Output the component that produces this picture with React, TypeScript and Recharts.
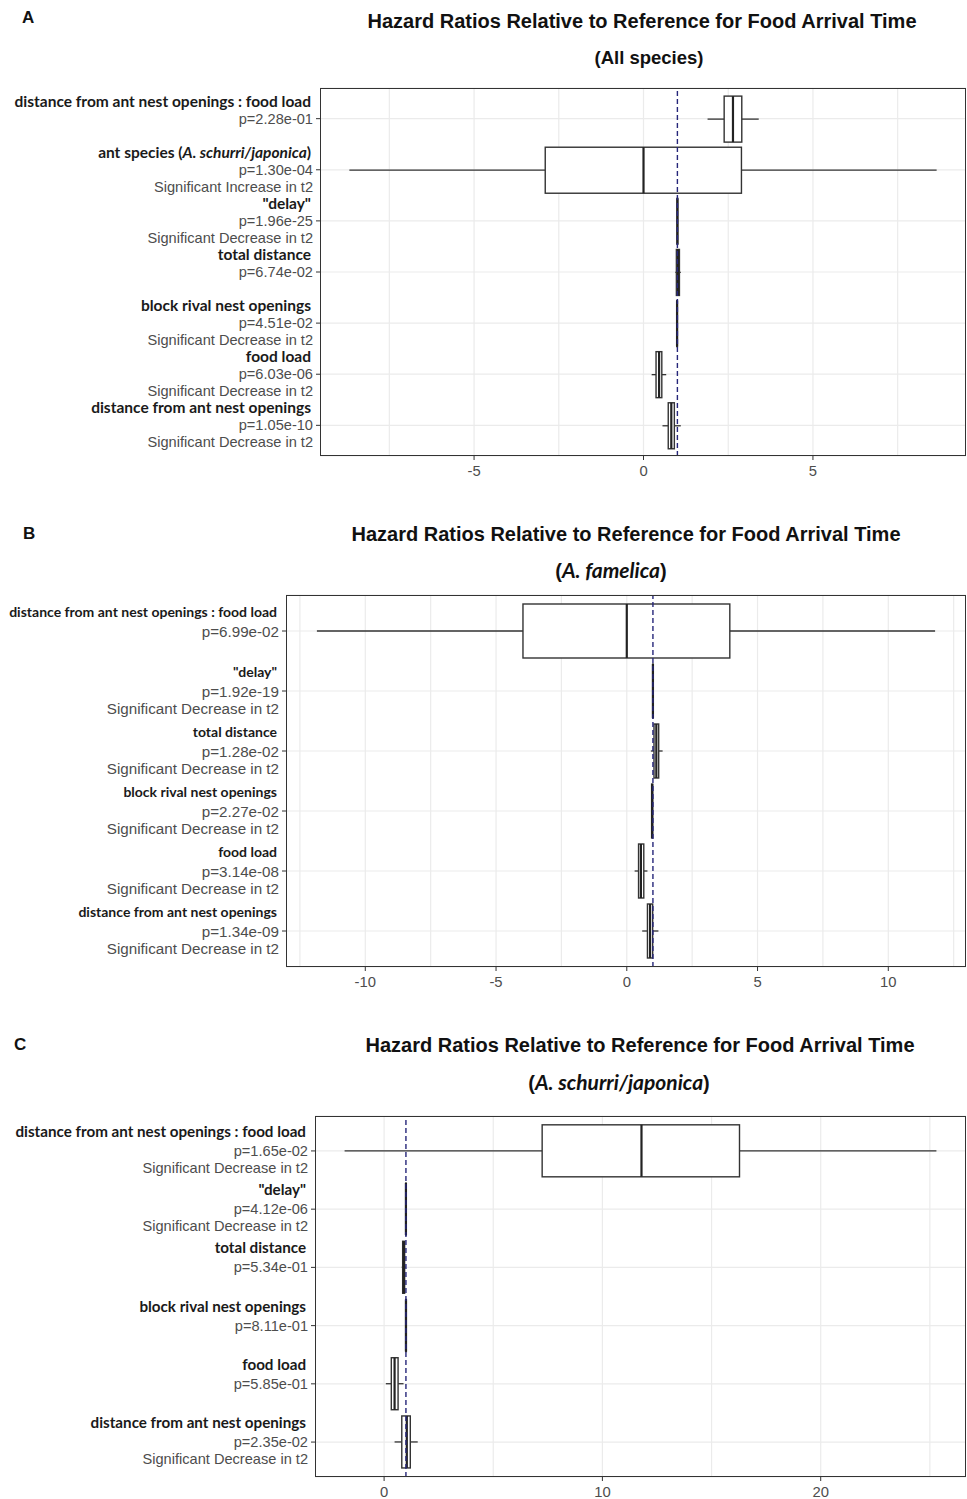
import React from "react";
import {
  ComposedChart,
  Bar,
  XAxis,
  YAxis,
  CartesianGrid,
  ReferenceLine,
} from "recharts";

const ARIAL = "'Liberation Sans', Arial, sans-serif";
const CAL = "Lato, 'Open Sans', sans-serif";

// ---- panel A: all species ----
const labelsA = [
  "distance from ant nest openings : food load",
  "ant species (A. schurri/japonica)",
  '"delay"',
  "total distance",
  "block rival nest openings",
  "food load",
  "distance from ant nest openings",
];
const pA = ["p=2.28e-01", "p=1.30e-04", "p=1.96e-25", "p=6.74e-02", "p=4.51e-02", "p=6.03e-06", "p=1.05e-10"];
const sigA = [
  "",
  "Significant Increase in t2",
  "Significant Decrease in t2",
  "",
  "Significant Decrease in t2",
  "Significant Decrease in t2",
  "Significant Decrease in t2",
];
const minA = [1.89, -8.68, 0.98, 0.94, 0.97, 0.24, 0.56];
const q1A = [2.38, -2.9, 0.99, 0.97, 0.98, 0.37, 0.73];
const medA = [2.64, 0, 1.0, 1.02, 0.99, 0.46, 0.82];
const q3A = [2.9, 2.89, 1.01, 1.06, 1.0, 0.54, 0.91];
const maxA = [3.4, 8.65, 1.02, 1.1, 1.01, 0.67, 1.1];
const ticksA = [-5, 0, 5];
const gridA = [-7.5, -5, -2.5, 0, 2.5, 5, 7.5];

// ---- panel B: A. famelica ----
const labelsB = [
  "distance from ant nest openings : food load",
  '"delay"',
  "total distance",
  "block rival nest openings",
  "food load",
  "distance from ant nest openings",
];
const pB = ["p=6.99e-02", "p=1.92e-19", "p=1.28e-02", "p=2.27e-02", "p=3.14e-08", "p=1.34e-09"];
const sigB = [
  "",
  "Significant Decrease in t2",
  "Significant Decrease in t2",
  "Significant Decrease in t2",
  "Significant Decrease in t2",
  "Significant Decrease in t2",
];
const minB = [-11.85, 0.98, 0.92, 0.93, 0.3, 0.59];
const q1B = [-3.97, 0.99, 1.04, 0.95, 0.45, 0.79];
const medB = [0, 1.0, 1.13, 0.97, 0.54, 0.89];
const q3B = [3.94, 1.01, 1.22, 0.99, 0.65, 0.99];
const maxB = [11.79, 1.02, 1.37, 1.0, 0.79, 1.21];
const ticksB = [-10, -5, 0, 5, 10];
const gridB = [-12.5, -10, -7.5, -5, -2.5, 0, 2.5, 5, 7.5, 10, 12.5];

// ---- panel C: A. schurri/japonica ----
const labelsC = labelsB;
const pC = ["p=1.65e-02", "p=4.12e-06", "p=5.34e-01", "p=8.11e-01", "p=5.85e-01", "p=2.35e-02"];
const sigC = [
  "Significant Decrease in t2",
  "Significant Decrease in t2",
  "",
  "",
  "",
  "Significant Decrease in t2",
];
const minC = [-1.81, 0.97, 0.81, 0.98, 0.08, 0.48];
const q1C = [7.24, 0.99, 0.85, 0.99, 0.33, 0.81];
const medC = [11.79, 1.0, 0.9, 1.0, 0.48, 1.04];
const q3C = [16.28, 1.01, 0.94, 1.02, 0.64, 1.2];
const maxC = [25.3, 1.03, 0.98, 1.04, 0.89, 1.54];
const ticksC = [0, 10, 20];
const gridC = [0, 5, 10, 15, 20, 25];

const title = "Hazard Ratios Relative to Reference for Food Arrival Time";
const subtitles = ["(All species)", "(A. famelica)", "(A. schurri/japonica)"];
const letters = ["A", "B", "C"];

const refValue = 1;

type Row = {
  name: string;
  p: string;
  sig: string;
  min: number;
  q1: number;
  med: number;
  q3: number;
  max: number;
  box: [number, number];
};

function buildRows(
  labels: string[],
  ps: string[],
  sigs: string[],
  mins: number[],
  q1s: number[],
  meds: number[],
  q3s: number[],
  maxs: number[]
): Row[] {
  return labels.map((name, i) => ({
    name,
    p: ps[i],
    sig: sigs[i],
    min: mins[i],
    q1: q1s[i],
    med: meds[i],
    q3: q3s[i],
    max: maxs[i],
    box: [mins[i], maxs[i]],
  }));
}

// ggplot-style 5% expansion
function expandDomain(rows: Row[]): [number, number] {
  const lo = Math.min(...rows.map((r) => r.min));
  const hi = Math.max(...rows.map((r) => r.max));
  const pad = (hi - lo) * 0.05;
  return [lo - pad, hi + pad];
}

function splitItalic(text: string) {
  const m = text.match(/^(.*\()(A\. [^)]*)(\).*)$/);
  if (!m) return null;
  return m;
}

function BoxShape(props: any) {
  const { x, y, width, height, payload } = props;
  const { min, max, q1, med, q3 } = payload as Row;
  const s = (v: number) => x + ((v - min) / (max - min)) * width;
  const cy = y + height / 2;
  const a = Math.min(s(q1), s(q3));
  const b = Math.max(s(q1), s(q3));
  return (
    <g>
      <line x1={s(min)} x2={s(q1)} y1={cy} y2={cy} stroke="#333" strokeWidth={1.3} />
      <line x1={s(q3)} x2={s(max)} y1={cy} y2={cy} stroke="#333" strokeWidth={1.3} />
      <rect x={a} y={y} width={Math.max(b - a, 0.5)} height={height} fill="#fff" stroke="#333" strokeWidth={1.4} />
      <line x1={s(med)} x2={s(med)} y1={y} y2={y + height} stroke="#222" strokeWidth={2.2} />
    </g>
  );
}

function makeYTick(rows: Row[], gap: number, labelSize: number, textSize: number) {
  return function YTick(props: any) {
    const { x, y, payload } = props;
    const row = rows.find((r) => r.name === payload.value);
    if (!row) return null;
    const parts = splitItalic(row.name);
    return (
      <g>
        <text
          x={x - 2}
          y={y - gap}
          textAnchor="end"
          dominantBaseline="central"
          fontFamily={CAL}
          fontWeight={700}
          fontSize={labelSize}
          fill="#1a1a1a"
        >
          {parts ? (
            <>
              <tspan>{parts[1]}</tspan>
              <tspan fontStyle="italic">{parts[2]}</tspan>
              <tspan>{parts[3]}</tspan>
            </>
          ) : (
            row.name
          )}
        </text>
        <text
          x={x}
          y={y}
          textAnchor="end"
          dominantBaseline="central"
          fontFamily={ARIAL}
          fontSize={textSize}
          fill="#4d4d4d"
        >
          {row.p}
        </text>
        {row.sig ? (
          <text
            x={x}
            y={y + 17}
            textAnchor="end"
            dominantBaseline="central"
            fontFamily={ARIAL}
            fontSize={textSize}
            fill="#4d4d4d"
          >
            {row.sig}
          </text>
        ) : null}
      </g>
    );
  };
}

type PanelProps = {
  rows: Row[];
  ticks: number[];
  grid: number[];
  plotTop: number;
  plotLeft: number;
  plotH: number;
  barSize: number;
  gap: number;
  labelSize: number;
  textSize: number;
};

const CHART_W = 967;
const PLOT_RIGHT = 966;

function Panel({ rows, ticks, grid, plotTop, plotLeft, plotH, barSize, gap, labelSize, textSize }: PanelProps) {
  const domain = expandDomain(rows);
  const n = rows.length;
  const pad = (plotH * 0.1) / (n + 0.2);
  const top = 8;
  const axisH = 32;
  const YTick = makeYTick(rows, gap, labelSize, textSize);
  return (
    <div style={{ position: "absolute", left: 0, top: plotTop - top }}>
      <ComposedChart
        width={CHART_W}
        height={top + plotH + axisH}
        data={rows}
        layout="vertical"
        margin={{ top, right: CHART_W - PLOT_RIGHT, bottom: 0, left: 0 }}
      >
        <XAxis
          type="number"
          domain={domain}
          allowDataOverflow
          ticks={ticks}
          axisLine={false}
          tickLine={{ stroke: "#333" }}
          tickSize={4}
          tickMargin={5}
          height={axisH}
          tick={{ fill: "#4d4d4d", fontSize: 14.8, fontFamily: ARIAL }}
        />
        <YAxis
          type="category"
          dataKey="name"
          width={plotLeft}
          padding={{ top: pad, bottom: pad }}
          axisLine={false}
          tickLine={{ stroke: "#333" }}
          tickSize={4}
          tickMargin={3}
          interval={0}
          tick={<YTick />}
        />
        <CartesianGrid
          stroke="#ebebeb"
          strokeWidth={1.2}
          verticalCoordinatesGenerator={(p: any) => {
            const sc = p?.xAxis?.scale;
            if (typeof sc === "function") return grid.map((v) => sc(v));
            if (sc && typeof sc.map === "function") return grid.map((v) => sc.map(v));
            return [];
          }}
        />
        <Bar
          dataKey="box"
          barSize={barSize}
          shape={<BoxShape />}
          isAnimationActive={false}
        />
        <ReferenceLine x={refValue} stroke="#26267a" strokeWidth={1.4} strokeDasharray="5 3" />
      </ComposedChart>
      <div
        style={{
          position: "absolute",
          left: plotLeft,
          top: top,
          width: PLOT_RIGHT - plotLeft,
          height: plotH,
          border: "1px solid #333",
          boxSizing: "border-box",
          pointerEvents: "none",
        }}
      />
    </div>
  );
}

function Subtitle({ text, italicSize }: { text: string; italicSize: number }) {
  const m = splitItalic(text);
  if (!m) return <>{text}</>;
  return (
    <>
      <span>{m[1]}</span>
      <span style={{ fontFamily: CAL, fontStyle: "italic", fontSize: italicSize }}>{m[2]}</span>
      <span>{m[3]}</span>
    </>
  );
}

const rowsA = buildRows(labelsA, pA, sigA, minA, q1A, medA, q3A, maxA);
const rowsB = buildRows(labelsB, pB, sigB, minB, q1B, medB, q3B, maxB);
const rowsC = buildRows(labelsC, pC, sigC, minC, q1C, medC, q3C, maxC);

const headStyle: React.CSSProperties = {
  position: "absolute",
  width: 700,
  textAlign: "center",
  fontFamily: ARIAL,
  fontWeight: 700,
  fontSize: 20,
  lineHeight: "24px",
  color: "#111",
  whiteSpace: "nowrap",
};

const letterStyle: React.CSSProperties = {
  position: "absolute",
  fontFamily: ARIAL,
  fontWeight: 700,
  fontSize: 17,
  lineHeight: "20px",
  color: "#111",
};

export default function App() {
  return (
    <div
      style={{
        position: "absolute",
        left: 0,
        top: 0,
        width: 967,
        height: 1499,
        background: "#fff",
        overflow: "hidden",
      }}
    >
      <div style={{ ...letterStyle, left: 22, top: 8 }}>{letters[0]}</div>
      <div style={{ ...headStyle, left: 642 - 350, top: 9 }}>{title}</div>
      <div style={{ ...headStyle, left: 649 - 350, top: 46, fontSize: 18.5 }}>
        <Subtitle text={subtitles[0]} italicSize={20} />
      </div>
      <Panel
        rows={rowsA}
        ticks={ticksA}
        grid={gridA}
        plotTop={88}
        plotLeft={320}
        plotH={368}
        barSize={46}
        gap={18}
        labelSize={15.5}
        textSize={14.6}
      />

      <div style={{ ...letterStyle, left: 23, top: 524 }}>{letters[1]}</div>
      <div style={{ ...headStyle, left: 626 - 350, top: 522 }}>{title}</div>
      <div style={{ ...headStyle, left: 611 - 350, top: 558 }}>
        <Subtitle text={subtitles[1]} italicSize={21} />
      </div>
      <Panel
        rows={rowsB}
        ticks={ticksB}
        grid={gridB}
        plotTop={595}
        plotLeft={286}
        plotH={372}
        barSize={54}
        gap={20}
        labelSize={14}
        textSize={15.2}
      />

      <div style={{ ...letterStyle, left: 14, top: 1035 }}>{letters[2]}</div>
      <div style={{ ...headStyle, left: 640 - 350, top: 1033 }}>{title}</div>
      <div style={{ ...headStyle, left: 619 - 350, top: 1070 }}>
        <Subtitle text={subtitles[2]} italicSize={21} />
      </div>
      <Panel
        rows={rowsC}
        ticks={ticksC}
        grid={gridC}
        plotTop={1116}
        plotLeft={315}
        plotH={361}
        barSize={52}
        gap={20}
        labelSize={15.2}
        textSize={14.6}
      />
    </div>
  );
}
